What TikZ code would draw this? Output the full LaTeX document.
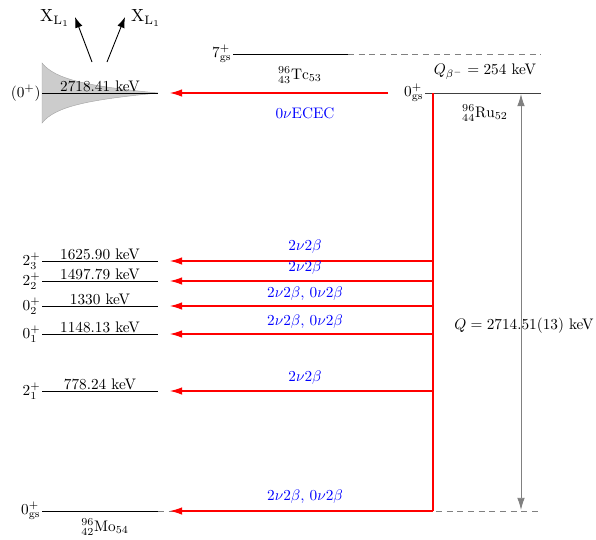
\documentclass[tikz,border=0pt]{standalone}
\usetikzlibrary{arrows.meta}
\begin{document}
\begin{tikzpicture}[x=0.655pt,y=-0.655pt,
  lvl/.style={black,line width=0.6pt},
  dsh/.style={gray,dash pattern=on 4pt off 3pt,line width=0.5pt},
  trans/.style={draw=red,line width=0.7pt,-{Latex[length=8pt,width=5pt]}},
  proc/.style={text=blue,inner sep=1pt},
  lbl/.style={anchor=east,inner sep=0pt,outer sep=1pt},
  en/.style={inner sep=0.5pt}]
\useasboundingbox (0,0) rectangle (596,539);
% gray broadened level
\fill[gray!40,draw=gray!70,line width=0.3pt] (42,63) .. controls (55,79) and (85,86) .. (158,93) .. controls (85,100) and (55,107) .. (42,123) -- cycle;
% X-ray arrows
\coordinate (xa) at (92,62); \coordinate (xb) at (107,62);
\node[scale=1.15] (xl1) at (55,18) {$\mathrm{X}_{\mathrm{L}_1}$};
\node[scale=1.15] (xl2) at (146,18) {$\mathrm{X}_{\mathrm{L}_1}$};
\coordinate (xat) at (75,17); \coordinate (xbt) at (125,17);
\draw[-{Latex[length=7pt,width=5pt]},line width=0.6pt] (xa) -- (xat);
\draw[-{Latex[length=7pt,width=5pt]},line width=0.6pt] (xb) -- (xbt);
% Mo levels
\foreach \nm/\y/\sp/\e in {l6/93/(0^+)/2718.41, l5/261/2^+_3/1625.90, l4/281/2^+_2/1497.79, l3/306/0^+_2/1330, l2/334/0^+_1/1148.13, l1/391/2^+_1/778.24}{
  \coordinate (\nm a) at (42,\y); \coordinate (\nm b) at (158,\y);
  \draw[lvl] (\nm a) -- (\nm b);
  \node[lbl] at (\nm a) {$\sp$};
  \node[en,anchor=south] at (100,\y) {\e~keV};
}
\coordinate (l0a) at (42,511); \coordinate (l0b) at (158,511); \coordinate (l0c) at (541,511);
\draw[lvl] (l0a) -- (l0b);
\draw[dsh] (l0b) -- (l0c);
\node[lbl] at (l0a) {$0^+_{\mathrm{gs}}$};
\node (mo) at (105,527) {${}^{96}_{42}\mathrm{Mo}_{54}$};
% Tc
\coordinate (tca) at (233,54); \coordinate (tcb) at (348,54); \coordinate (tcc) at (541,54);
\draw[lvl] (tca) -- (tcb);
\draw[dsh] (tcb) -- (tcc);
\node[lbl] at (tca) {$7^+_{\mathrm{gs}}$};
\node (tc) at (300,75) {${}^{96}_{43}\mathrm{Tc}_{53}$};
% Ru
\coordinate (rua) at (425,93); \coordinate (rub) at (541,93);
\draw[lvl,black!75] (rua) -- (rub);
\node[lbl] at (rua) {$0^+_{\mathrm{gs}}$};
\node (qb) at (485,72) {$Q_{\beta^-}=254$ keV};
\node (ru) at (485,113) {${}^{96}_{44}\mathrm{Ru}_{52}$};
% red transitions
\coordinate (rt) at (433,93); \coordinate (rbot) at (433,511);
\draw[draw=red,line width=0.7pt] (rt) -- (rbot);
\foreach \nm/\y in {r5/261,r4/281,r3/306,r2/334,r1/391}{
  \coordinate (\nm) at (433,\y); \coordinate (\nm t) at (170,\y);
  \draw[trans] (\nm) -- (\nm t);
}
\coordinate (r0t) at (170,511);
\draw[trans] (rbot) -- (r0t);
\coordinate (ec) at (388,93); \coordinate (ect) at (170,93);
\draw[trans] (ec) -- (ect);
\node[proc] (p6) at (305,113) {$0\nu$ECEC};
\node[proc] (p5) at (305,247) {$2\nu2\beta$};
\node[proc] (p4) at (305,268) {$2\nu2\beta$};
\node[proc] (p3) at (305,294) {$2\nu2\beta$, $0\nu2\beta$};
\node[proc] (p2) at (305,322) {$2\nu2\beta$, $0\nu2\beta$};
\node[proc] (p1) at (305,378) {$2\nu2\beta$};
\node[proc] (p0) at (305,497) {$2\nu2\beta$, $0\nu2\beta$};
% Q arrow
\coordinate (qt) at (521,94); \coordinate (qbt) at (521,510);
\draw[gray,line width=0.6pt,{Latex[length=8pt,width=5pt]}-{Latex[length=8pt,width=5pt]}] (qt) -- (qbt);
\node (q) at (524,326) {$Q=2714.51(13)$ keV};
\end{tikzpicture}
\end{document}
